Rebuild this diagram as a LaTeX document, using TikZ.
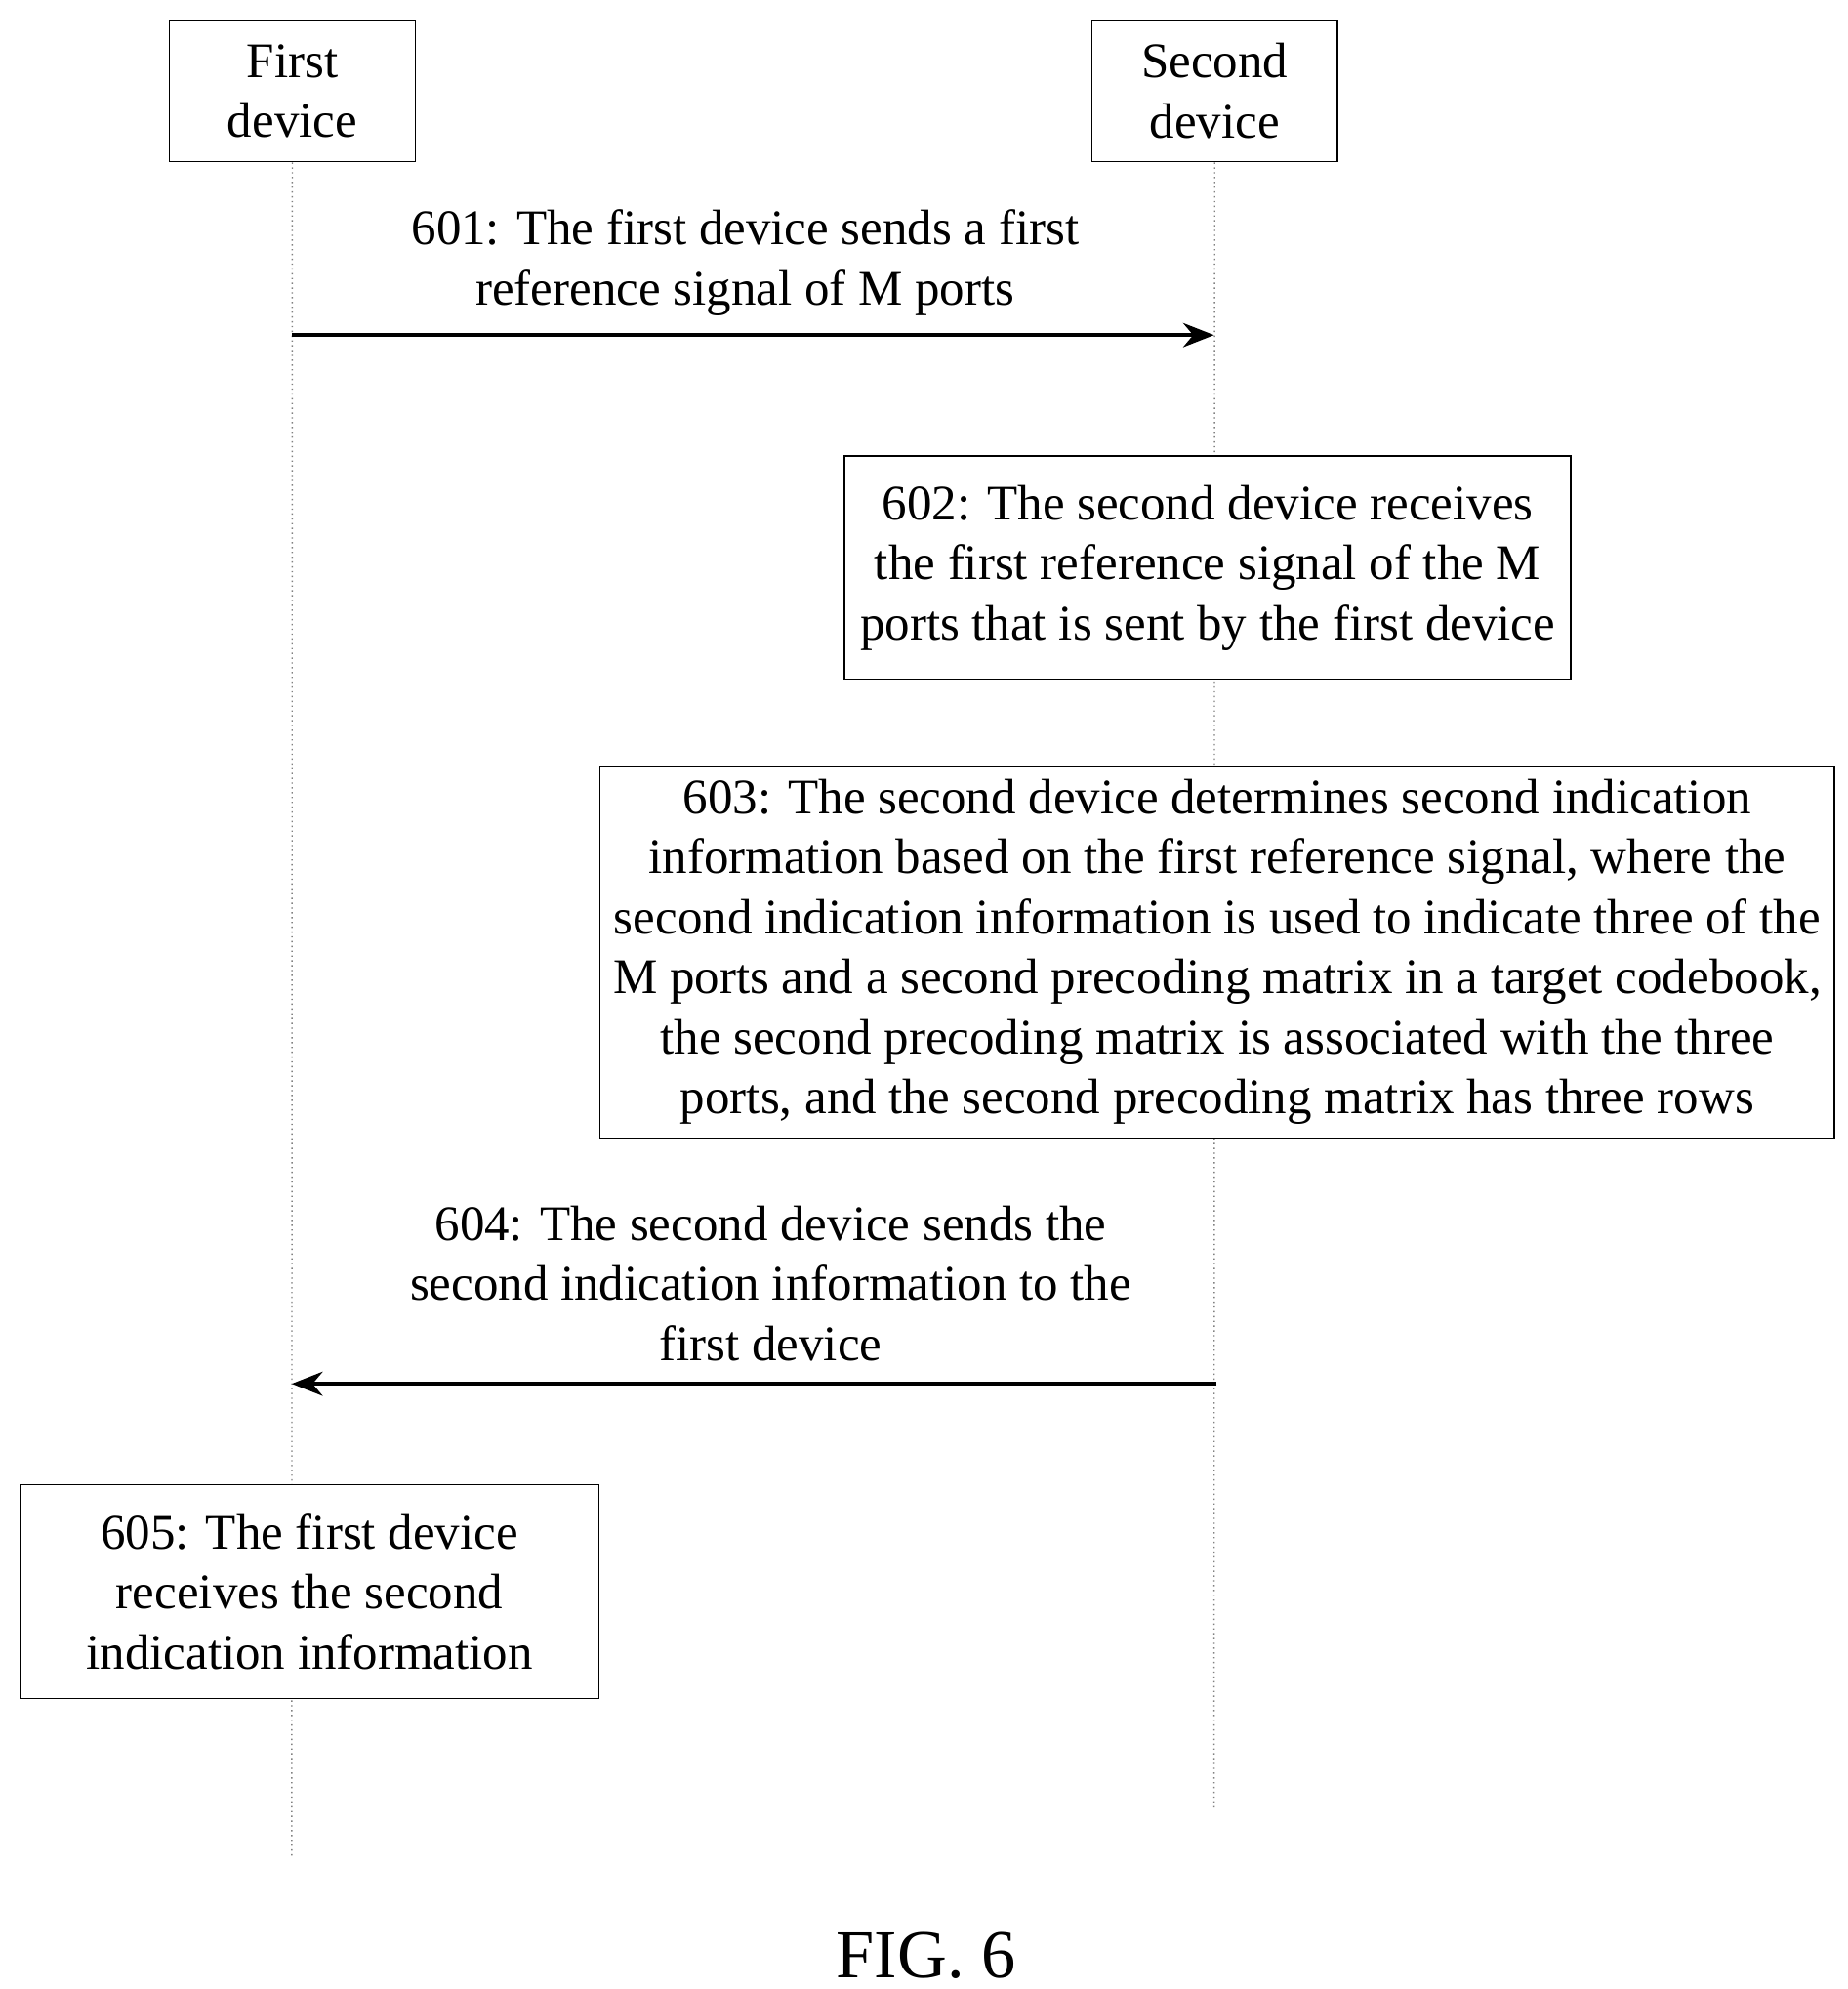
\documentclass[tikz,border=0pt]{standalone}
\usepackage{fontspec}
\setmainfont{Liberation Serif}
\usetikzlibrary{arrows.meta}
\begin{document}
\begin{tikzpicture}[x=0.01305cm, y=-0.01305cm,
  every node/.style={font=\fontsize{14.5}{17.5}\selectfont, align=center, inner sep=0pt},
  box/.style={draw, thin},
  life/.style={densely dotted, gray},
  msg/.style={line width=1.2pt, -{Stealth[length=9pt,width=7pt]}}]
\useasboundingbox (0,0) rectangle (1450,1561);
% participants
\node[box, minimum width=193*0.01305cm, minimum height=111*0.01305cm] (first) at (229.5,71.5) {First\\device};
\node[box, minimum width=193*0.01305cm, minimum height=111*0.01305cm] (second) at (953.5,71.5) {Second\\device};
\coordinate (firstend) at (229,1457);
\coordinate (secondend) at (953,1420);
\draw[life] (first) -- (firstend);
\draw[life] (second) -- (secondend);
% 601
\coordinate (a1) at (229,263);
\coordinate (b1) at (953,263);
\draw[msg] (a1) -- (b1);
\node (t601) at (585,206) {601: The first device sends a first\\reference signal of M ports};
% 602
\node[box, fill=white, minimum width=570*0.01305cm, minimum height=175*0.01305cm] (s602) at (948,445.5)
  {602: The second device receives\\the first reference signal of the M\\ports that is sent by the first device};
% 603
\node[box, fill=white, minimum width=969*0.01305cm, minimum height=292*0.01305cm] (s603) at (955.5,747)
  {603: The second device determines second indication\\information based on the first reference signal, where the\\second indication information is used to indicate three of the\\M ports and a second precoding matrix in a target codebook,\\the second precoding matrix is associated with the three\\ports, and the second precoding matrix has three rows};
% 604
\coordinate (a4) at (955,1086);
\coordinate (b4) at (229,1086);
\draw[msg] (a4) -- (b4);
\node (t604) at (605,1007) {604: The second device sends the\\second indication information to the\\first device};
% 605
\node[box, fill=white, minimum width=454*0.01305cm, minimum height=168*0.01305cm] (s605) at (243,1249)
  {605: The first device\\receives the second\\indication information};
\node[font=\fontsize{20}{24}\selectfont] (fig) at (727,1535) {FIG. 6};
\end{tikzpicture}
\end{document}
